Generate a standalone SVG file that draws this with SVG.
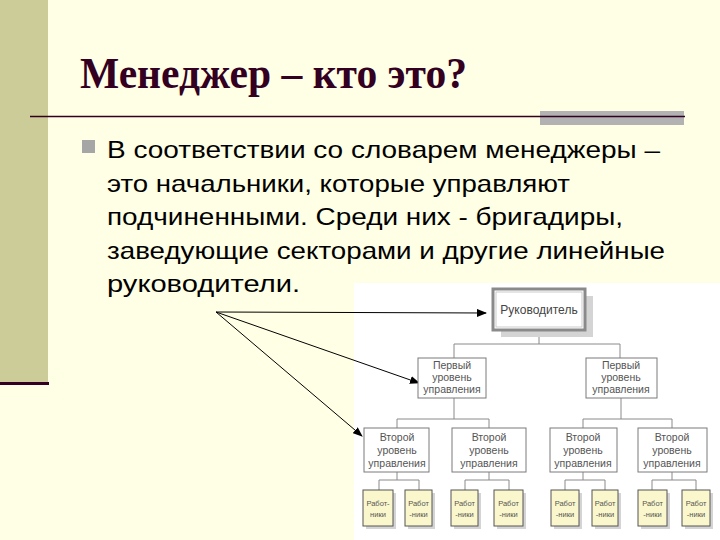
<svg xmlns="http://www.w3.org/2000/svg" width="720" height="540" viewBox="0 0 720 540">
<defs>
<marker id="ah" markerWidth="10" markerHeight="8" refX="9" refY="4" orient="auto" markerUnits="userSpaceOnUse">
<path d="M0,0 L10,4 L0,8 Z" fill="#000"/>
</marker>
<style>
.body{font-family:"Liberation Sans",Arial,sans-serif;font-size:24px;fill:#000}
.title{font-family:"Liberation Serif","Times New Roman",serif;font-weight:bold;font-size:44px;fill:#330022}
.box{fill:#fff;stroke:#7a7a7a;stroke-width:1}
.shadow{fill:#d4d4d4}
.wbox{fill:#fbf7cc;stroke:#555;stroke-width:1}
.lbl{font-family:"Liberation Sans",Arial,sans-serif;font-size:10.5px;fill:#555;text-anchor:middle}
.wlbl{font-family:"Liberation Sans",Arial,sans-serif;font-size:7.5px;fill:#555;text-anchor:middle}
.tree{stroke:#8a8a8a;stroke-width:1;fill:none}
.arr{stroke:#000;stroke-width:1;fill:none}
</style>
</defs>
<rect x="0" y="0" width="720" height="540" fill="#ffffe5"/>
<rect x="0" y="0" width="48" height="383" fill="#cccc99"/>
<rect x="0" y="382" width="49" height="3" fill="#330022"/>
<text class="title" x="80" y="88" textLength="387" lengthAdjust="spacingAndGlyphs">Менеджер – кто это?</text>
<rect x="540" y="111" width="144" height="14" fill="#b2b2b2"/>
<line x1="30" y1="116.5" x2="685" y2="116.5" stroke="#330022" stroke-width="1.5"/>
<rect x="82" y="140" width="13" height="13" fill="#a6a6a6"/>
<text class="body" x="107" y="158" textLength="553" lengthAdjust="spacingAndGlyphs">В соответствии со словарем менеджеры –</text>
<text class="body" x="107" y="191.5" textLength="463" lengthAdjust="spacingAndGlyphs">это начальники, которые управляют</text>
<text class="body" x="107" y="225" textLength="516" lengthAdjust="spacingAndGlyphs">подчиненными. Среди них - бригадиры,</text>
<text class="body" x="107" y="258.5" textLength="558" lengthAdjust="spacingAndGlyphs">заведующие секторами и другие линейные</text>
<text class="body" x="107" y="292" textLength="193" lengthAdjust="spacingAndGlyphs">руководители.</text>
<rect x="354" y="283" width="366" height="257" fill="#fff"/>
<g id="connectors">
<path class="tree" d="M539,330 V344 M454,344 H620 M454,344 V358 M620,344 V358"/>
<path class="tree" d="M454,398 V419 M397,419 H489 M397,419 V428 M489,419 V428"/>
<path class="tree" d="M621,398 V419 M583,419 H672 M583,419 V428 M672,419 V428"/>
<path class="tree" d="M397,472 V480 M379,480 H419 M379,480 V490 M419,480 V490"/>
<path class="tree" d="M489,472 V480 M465,480 H509 M465,480 V490 M509,480 V490"/>
<path class="tree" d="M583,472 V480 M565,480 H605 M565,480 V490 M605,480 V490"/>
<path class="tree" d="M672,472 V480 M652,480 H696 M652,480 V490 M696,480 V490"/>
<line class="arr" x1="216" y1="312" x2="486" y2="313" marker-end="url(#ah)"/>
<line class="arr" x1="216" y1="312" x2="419" y2="383" marker-end="url(#ah)"/>
<line class="arr" x1="216" y1="312" x2="362" y2="436" marker-end="url(#ah)"/>
</g>
<g id="top">
<rect x="501" y="296" width="92" height="41" class="shadow"/>
<rect x="493" y="289" width="92" height="41" fill="#fff" stroke="#8a8a8a" stroke-width="3"/>
<rect x="496" y="292" width="86" height="35" fill="none" stroke="#bdbdbd" stroke-width="0.8"/>
<text x="539" y="314" font-family="Liberation Sans, Arial, sans-serif" font-size="12" fill="#444" text-anchor="middle">Руководитель</text>
</g>
<g id="l1a">
<rect x="418" y="358" width="68" height="40" class="box"/>
<text class="lbl" x="452" y="369">Первый</text>
<text class="lbl" x="452" y="381">уровень</text>
<text class="lbl" x="452" y="393">управления</text>
</g>
<g id="l1b">
<rect x="586" y="358" width="71" height="40" class="box"/>
<text class="lbl" x="621" y="369">Первый</text>
<text class="lbl" x="621" y="381">уровень</text>
<text class="lbl" x="621" y="393">управления</text>
</g>
<g id="l2a">
<rect x="364" y="428" width="65" height="44" class="box"/>
<text class="lbl" x="397" y="441">Второй</text>
<text class="lbl" x="397" y="454">уровень</text>
<text class="lbl" x="397" y="467">управления</text>
</g>
<g id="l2b">
<rect x="452" y="428" width="74" height="44" class="box"/>
<text class="lbl" x="489" y="441">Второй</text>
<text class="lbl" x="489" y="454">уровень</text>
<text class="lbl" x="489" y="467">управления</text>
</g>
<g id="l2c">
<rect x="550" y="428" width="67" height="44" class="box"/>
<text class="lbl" x="583" y="441">Второй</text>
<text class="lbl" x="583" y="454">уровень</text>
<text class="lbl" x="583" y="467">управления</text>
</g>
<g id="l2d">
<rect x="638" y="428" width="69" height="44" class="box"/>
<text class="lbl" x="672" y="441">Второй</text>
<text class="lbl" x="672" y="454">уровень</text>
<text class="lbl" x="672" y="467">управления</text>
</g>
<g id="w1"><rect x="366" y="493" width="30" height="36" class="shadow"/><rect x="363" y="490" width="30" height="36" class="wbox"/><text class="wlbl" x="378" y="506">Работ-</text><text class="wlbl" x="378" y="517">ники</text></g>
<g id="w2"><rect x="408" y="493" width="27" height="36" class="shadow"/><rect x="405" y="490" width="27" height="36" class="wbox"/><text class="wlbl" x="418.5" y="506">Работ</text><text class="wlbl" x="418.5" y="517">-ники</text></g>
<g id="w3"><rect x="454" y="493" width="27" height="36" class="shadow"/><rect x="451" y="490" width="27" height="36" class="wbox"/><text class="wlbl" x="464.5" y="506">Работ</text><text class="wlbl" x="464.5" y="517">-ники</text></g>
<g id="w4"><rect x="497" y="493" width="29" height="36" class="shadow"/><rect x="494" y="490" width="29" height="36" class="wbox"/><text class="wlbl" x="508.5" y="506">Работ</text><text class="wlbl" x="508.5" y="517">-ники</text></g>
<g id="w5"><rect x="554" y="493" width="28" height="36" class="shadow"/><rect x="551" y="490" width="28" height="36" class="wbox"/><text class="wlbl" x="565" y="506">Работ</text><text class="wlbl" x="565" y="517">-ники</text></g>
<g id="w6"><rect x="595" y="493" width="26" height="36" class="shadow"/><rect x="592" y="490" width="26" height="36" class="wbox"/><text class="wlbl" x="605" y="506">Работ</text><text class="wlbl" x="605" y="517">-ники</text></g>
<g id="w7"><rect x="641" y="493" width="29" height="36" class="shadow"/><rect x="638" y="490" width="29" height="36" class="wbox"/><text class="wlbl" x="652.5" y="506">Работ</text><text class="wlbl" x="652.5" y="517">-ники</text></g>
<g id="w8"><rect x="685" y="493" width="28" height="36" class="shadow"/><rect x="682" y="490" width="28" height="36" class="wbox"/><text class="wlbl" x="696" y="506">Работ</text><text class="wlbl" x="696" y="517">-ники</text></g>
</svg>
